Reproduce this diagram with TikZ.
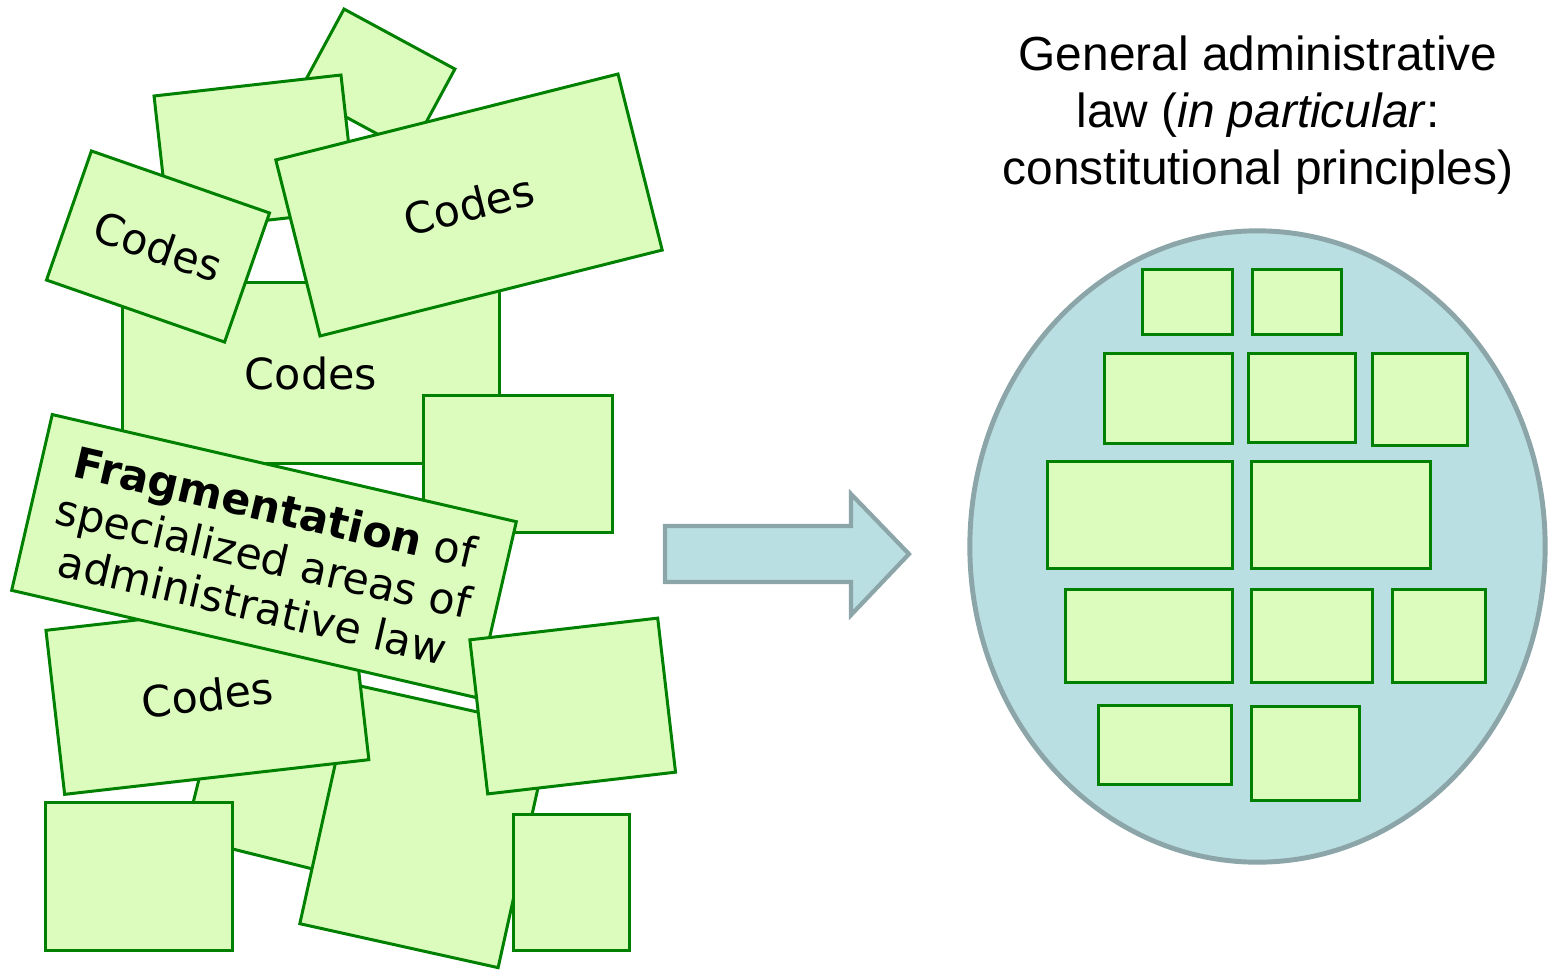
\documentclass[tikz,border=0pt]{standalone}
\usepackage{fontspec}
\newfontfamily\dejavu{DejaVu Sans}
\newfontfamily\libsans{Liberation Sans}
\definecolor{gfill}{HTML}{DCFCBE}
\definecolor{gline}{HTML}{008000}
\definecolor{bfill}{HTML}{BADFE2}
\definecolor{bline}{HTML}{8BA5A8}
\begin{document}
\begin{tikzpicture}[x=0.01cm,y=-0.01cm,
  card/.style={draw=gline, fill=gfill, line width=0.85pt, inner sep=0pt, outer sep=0pt,
    font=\dejavu\fontsize{12.2pt}{14.2pt}\selectfont, text=black, align=center},
  tile/.style={draw=gline, fill=gfill, line width=0.85pt},
  shiftarrow/.style={draw=bline, fill=bfill, line width=1.2pt, line join=miter},
  pool/.style={draw=bline, fill=bfill, line width=1.4pt},
  title/.style={font=\libsans\fontsize{13.6pt}{16.2pt}\selectfont, align=center, text=black}]
\useasboundingbox (0,0) rectangle (1554,969);
% left pile, back to front
\node[card, minimum width=1.26cm, minimum height=0.94cm, rotate=-28.4] (a) at (377.1,80.4) {};
\node[card, minimum width=1.88cm, minimum height=1.36cm, rotate=6.4] (b) at (255.1,153.1) {};
\node[card, minimum width=3.76cm, minimum height=1.80cm] (e) at (311,373) {Codes};
\node[card, minimum width=1.88cm, minimum height=1.36cm] (f) at (518,464) {};
\node[card, minimum width=1.885cm, minimum height=1.366cm, rotate=-19.2] (c) at (158,246.5) {Codes};
\node[card, minimum width=3.526cm, minimum height=1.814cm, rotate=14.1] (d) at (469,205) {Codes};
\node[card, minimum width=1.40cm, minimum height=1.40cm, rotate=-14] (i) at (269.5,786) {};
\node[card, minimum width=2.03cm, minimum height=2.45cm, rotate=-12.5] (j) at (425.5,826) {};
\node[card, minimum width=3.06cm, minimum height=1.65cm, rotate=6.5] (h) at (207.4,695) {Codes};
\node[card, minimum width=4.76cm, minimum height=1.803cm, rotate=-13] (g) at (264,556)
  {{\bfseries Fragmentation} of\\specialized areas of\\administrative law};
\node[card, minimum width=1.89cm, minimum height=1.55cm, rotate=6.6] (k) at (572.7,706) {};
\node[card, minimum width=1.15cm, minimum height=1.35cm] (l) at (571.5,882.5) {};
\node[card, minimum width=1.86cm, minimum height=1.47cm] (m) at (139,876.5) {};
% arrow
\draw[shiftarrow] (665,526) -- (851,526) -- (851,494) -- (909,554) -- (851,615) -- (851,582) -- (665,582) -- cycle;
% title
\node[title] (t) at (1258,115) {General administrative\\law (\textit{in particular}:\\constitutional principles)};
% ellipse
\draw[pool] (1257.5,546.5) ellipse [x radius=2.875cm, y radius=3.155cm];
% ordered tiles
\draw[tile] (1142,269) rectangle (1232,334);
\draw[tile] (1252,269) rectangle (1341,334);
\draw[tile] (1104,353) rectangle (1232,443);
\draw[tile] (1248,353) rectangle (1355,442);
\draw[tile] (1372,353) rectangle (1467,445);
\draw[tile] (1047,461) rectangle (1232,568);
\draw[tile] (1251,461) rectangle (1430,568);
\draw[tile] (1065,589) rectangle (1232,682);
\draw[tile] (1251,589) rectangle (1372,682);
\draw[tile] (1392,589) rectangle (1485,682);
\draw[tile] (1098,705) rectangle (1231,784);
\draw[tile] (1251,706) rectangle (1359,800);
\end{tikzpicture}
\end{document}
